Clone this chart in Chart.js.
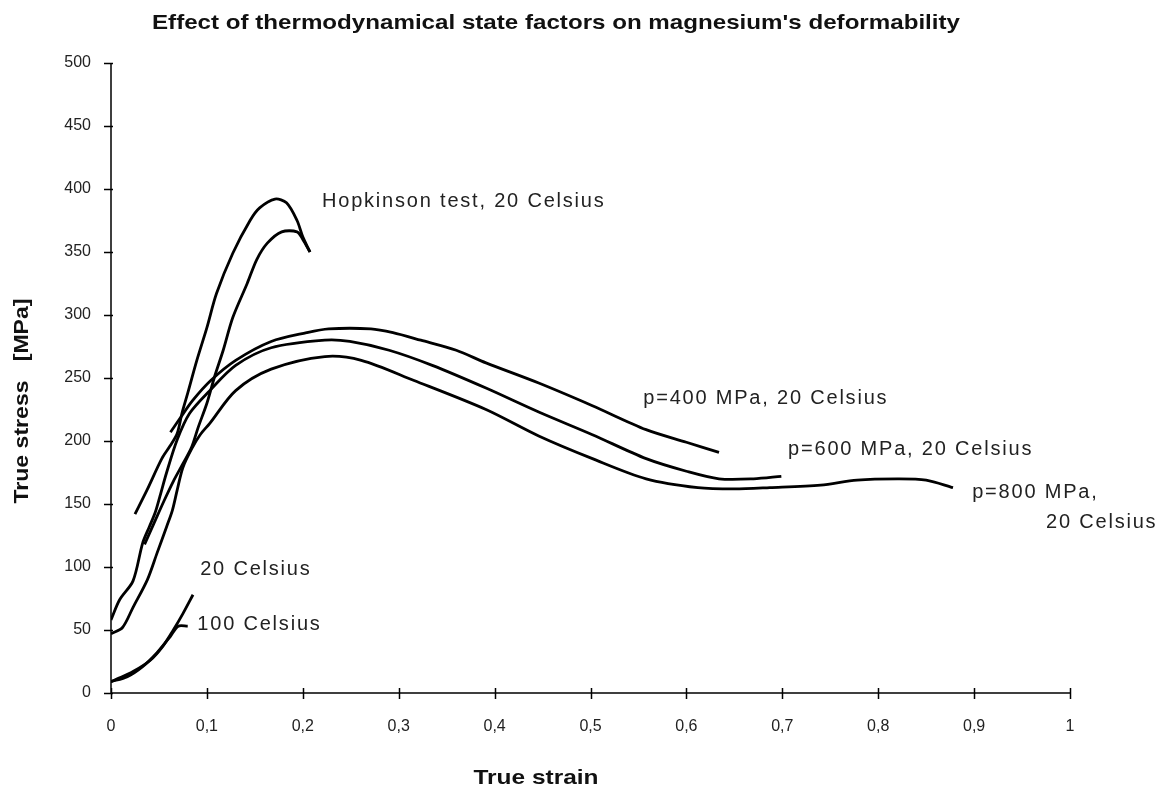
<!DOCTYPE html>
<html>
<head>
<meta charset="utf-8">
<script src="https://cdn.jsdelivr.net/npm/chart.js@4/dist/chart.umd.min.js"></script>
<style>
  html, body { margin: 0; padding: 0; background: #fff; }
  #wrap { width: 1163px; height: 791px; }
</style>
</head>
<body>
<div id="wrap"><canvas id="c" width="1163" height="791"></canvas></div>
<script>
// Stress–strain curves of magnesium (true strain vs. true stress, MPa)
const hopkinsonUpperStrain = [0.025, 0.0375, 0.053, 0.0615, 0.069, 0.074, 0.080, 0.0895, 0.100, 0.110, 0.127, 0.145, 0.155, 0.171, 0.183, 0.194, 0.200, 0.2075];
const hopkinsonUpperStress = [142, 161, 186, 196, 206, 222, 238, 264, 290, 317, 349, 375, 385, 392, 389, 375, 362, 350];

const hopkinsonLowerStrain = [0.035, 0.045, 0.055, 0.065, 0.075, 0.084, 0.091, 0.100, 0.108, 0.117, 0.127, 0.142, 0.152, 0.163, 0.178, 0.194, 0.200, 0.2075];
const hopkinsonLowerStress = [118, 135, 152, 168, 182, 195, 211, 230, 251, 272, 298, 325, 344, 357, 366, 366, 360, 350];

const p400Strain = [0.062, 0.072, 0.085, 0.104, 0.130, 0.167, 0.204, 0.227, 0.271, 0.294, 0.323, 0.360, 0.391, 0.446, 0.502, 0.558, 0.600, 0.634];
const p400Stress = [207, 218, 232, 248, 264, 279, 286, 289, 289, 286, 280, 272, 262, 246, 228, 209, 199, 191];

const p600Strain = [0, 0.009, 0.023, 0.033, 0.040, 0.046, 0.051, 0.058, 0.069, 0.082, 0.103, 0.130, 0.167, 0.223, 0.249, 0.290, 0.335, 0.391, 0.446, 0.502, 0.558, 0.600, 0.634, 0.670, 0.699];
const p600Stress = [58, 74, 89, 119, 132, 143, 156, 175, 201, 222, 240, 260, 274, 280, 279, 272, 260, 242, 223, 205, 186, 176, 170, 170, 172];

const p800Strain = [0, 0.012, 0.023, 0.038, 0.048, 0.058, 0.064, 0.069, 0.075, 0.085, 0.093, 0.103, 0.130, 0.167, 0.223, 0.261, 0.316, 0.391, 0.446, 0.502, 0.558, 0.612, 0.650, 0.687, 0.740, 0.778, 0.820, 0.850, 0.878];
const p800Stress = [47, 52, 68, 90, 111, 132, 145, 161, 179, 195, 205, 214, 240, 257, 267, 264, 248, 225, 204, 186, 170, 163, 162, 163, 165, 169, 170, 169, 163];

const room20Strain = [0, 0.009, 0.023, 0.041, 0.054, 0.065, 0.075, 0.0855];
const room20Stress = [9, 12, 17, 26, 37, 50, 63, 78];

const hot100Strain = [0, 0.017, 0.033, 0.048, 0.062, 0.070, 0.080];
const hot100Stress = [9, 13, 21, 32, 45, 53, 53];

const strainTicks = [0, 0.1, 0.2, 0.3, 0.4, 0.5, 0.6, 0.7, 0.8, 0.9, 1];
const stressTicks = [0, 50, 100, 150, 200, 250, 300, 350, 400, 450, 500];

const chartTitle = "Effect of thermodynamical state factors on magnesium's deformability";
const xTitle = 'True strain';
const yTitle = 'True stress   [MPa]';

// curve labels: text plus the (strain, stress) spot where it sits
const curveLabels = [
  { text: 'Hopkinson test, 20 Celsius', x: 0.220, y: 390 },
  { text: 'p=400 MPa, 20 Celsius', x: 0.555, y: 234 },
  { text: 'p=600 MPa, 20 Celsius', x: 0.706, y: 193 },
  { text: 'p=800 MPa,', x: 0.898, y: 159 },
  { text: '20 Celsius', x: 0.975, y: 135 },
  { text: '20 Celsius', x: 0.093, y: 98 },
  { text: '100 Celsius', x: 0.090, y: 54 }
];

function toPoints(xs, ys) { return xs.map((x, i) => ({ x: x, y: ys[i] })); }

const seriesList = [
  toPoints(hopkinsonUpperStrain, hopkinsonUpperStress),
  toPoints(hopkinsonLowerStrain, hopkinsonLowerStress),
  toPoints(p400Strain, p400Stress),
  toPoints(p600Strain, p600Stress),
  toPoints(p800Strain, p800Stress),
  toPoints(room20Strain, room20Stress),
  toPoints(hot100Strain, hot100Stress)
];

const INK = '#000';
const TEXT = '#222';
const FONT = "'Liberation Sans', Arial, sans-serif";

// draws text squeezed or stretched horizontally to a given width
function fitText(ctx, text, cx, cy, width, align) {
  const w = ctx.measureText(text).width;
  ctx.save();
  ctx.translate(cx, cy);
  ctx.scale(width / w, 1);
  ctx.textAlign = align;
  ctx.fillText(text, 0, 0);
  ctx.restore();
}

const decorations = {
  id: 'decorations',
  afterDraw(chart) {
    const ctx = chart.ctx;
    const xs = chart.scales.x, ys = chart.scales.y;
    const a = chart.chartArea;
    ctx.save();
    // axis lines with ticks crossing them
    ctx.strokeStyle = INK;
    ctx.lineWidth = 1.5;
    ctx.beginPath();
    ctx.moveTo(a.left, ys.getPixelForValue(500));
    ctx.lineTo(a.left, a.bottom);
    ctx.lineTo(xs.getPixelForValue(1), a.bottom);
    strainTicks.forEach(v => {
      const px = Math.round(xs.getPixelForValue(v)) + 0.5;
      ctx.moveTo(px, a.bottom - 5);
      ctx.lineTo(px, a.bottom + 6);
    });
    stressTicks.forEach(v => {
      const py = Math.round(ys.getPixelForValue(v)) + 0.5;
      ctx.moveTo(a.left - 7, py);
      ctx.lineTo(a.left + 2, py);
    });
    ctx.stroke();

    // chart title, bold and condensed
    ctx.fillStyle = '#111';
    ctx.textBaseline = 'middle';
    ctx.font = 'bold 21px ' + FONT;
    fitText(ctx, chartTitle, 152, 23, 808, 'left');

    // axis titles
    ctx.font = 'bold 21px ' + FONT;
    fitText(ctx, xTitle, 536, 778, 125, 'center');
    ctx.save();
    ctx.translate(22, 401);
    ctx.rotate(-Math.PI / 2);
    fitText(ctx, yTitle, 0, 0, 205, 'center');
    ctx.restore();

    // curve labels
    ctx.font = '20px ' + FONT;
    ctx.letterSpacing = '1.8px';
    ctx.fillStyle = TEXT;
    ctx.textAlign = 'left';
    curveLabels.forEach(l => {
      ctx.fillText(l.text, xs.getPixelForValue(l.x), ys.getPixelForValue(l.y));
    });
    ctx.restore();
  }
};

new Chart(document.getElementById('c'), {
  type: 'scatter',
  data: {
    datasets: seriesList.map(pts => ({
      data: pts,
      showLine: true,
      borderColor: INK,
      borderWidth: 2.8,
      pointRadius: 0,
      tension: 0.3,
      fill: false
    }))
  },
  options: {
    responsive: false,
    animation: false,
    layout: { padding: { top: 63, right: 93, left: 0, bottom: 0 } },
    plugins: { legend: { display: false }, tooltip: { enabled: false } },
    scales: {
      x: {
        type: 'linear', min: 0, max: 1,
        afterFit(s) { s.height = 98; },
        afterBuildTicks(s) { s.ticks = strainTicks.map(v => ({ value: v })); },
        grid: { display: false, drawTicks: false },
        border: { display: false },
        ticks: {
          padding: 24, color: TEXT,
          font: { family: FONT, size: 16 },
          callback: v => String(v).replace('.', ',')
        }
      },
      y: {
        type: 'linear', min: 0, max: 500,
        afterFit(s) { s.width = 111; },
        afterBuildTicks(s) { s.ticks = stressTicks.map(v => ({ value: v })); },
        grid: { display: false, drawTicks: false },
        border: { display: false },
        ticks: {
          padding: 20, color: TEXT,
          font: { family: FONT, size: 16 }
        }
      }
    }
  },
  plugins: [decorations]
});
</script>
</body>
</html>
